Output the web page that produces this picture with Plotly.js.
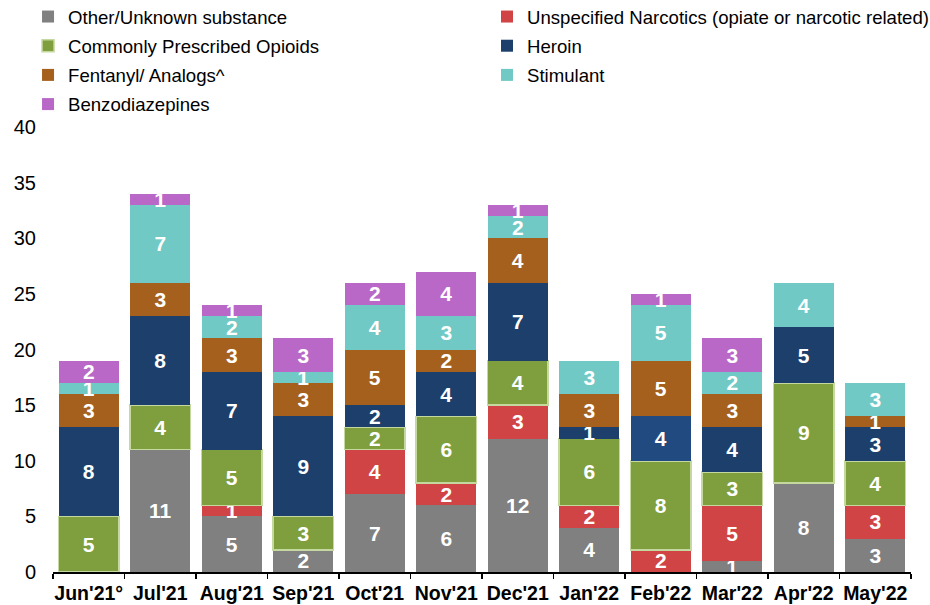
<!DOCTYPE html>
<html>
<head>
<meta charset="utf-8">
<script src="https://cdn.plot.ly/plotly-3.0.1.min.js"></script>
<style>html,body{margin:0;padding:0;background:#fff;}#chart{width:930px;height:605px;}</style>
</head>
<body>
<div id="chart"></div>
<script>
const months = ["Jun'21°","Jul'21","Aug'21","Sep'21","Oct'21","Nov'21","Dec'21","Jan'22","Feb'22","Mar'22","Apr'22","May'22"];
const otherUnknown = [0,11,5,2,7,6,12,4,0,1,8,3];
const unspecNarcotics = [0,0,1,0,4,2,3,2,2,5,0,3];
const prescribedOpioids = [5,4,5,3,2,6,4,6,8,3,9,4];
const heroin = [8,8,7,9,2,4,7,1,4,4,5,3];
const fentanyl = [3,3,3,3,5,2,4,3,5,3,0,1];
const stimulant = [1,7,2,1,4,3,2,3,5,2,4,3];
const benzodiazepines = [2,1,1,3,2,4,1,0,1,3,0,0];

const seriesNames = ["Other/Unknown substance","Unspecified Narcotics (opiate or narcotic related)","Commonly Prescribed Opioids","Heroin","Fentanyl/ Analogs^","Stimulant","Benzodiazepines"];
const seriesValues = [otherUnknown, unspecNarcotics, prescribedOpioids, heroin, fentanyl, stimulant, benzodiazepines];
const seriesColors = ["#808080","#d04445","#7f9f3f","#1c3f6c","#a5601e","#70c9c5","#b968c7"];
const legendColumn = ["legend","legend2","legend","legend2","legend","legend2","legend"];

const FONT = 'Liberation Sans, Arial, sans-serif';

const traces = seriesValues.map((vals, i) => ({
  type: 'bar',
  name: seriesNames[i],
  legend: legendColumn[i],
  legendgroup: 'g' + i,
  x: months,
  y: vals,
  text: vals.map(v => v === 0 ? '' : String(v)),
  textposition: 'inside',
  insidetextanchor: 'middle',
  textangle: 0,
  constraintext: 'none',
  cliponaxis: false,
  textfont: {family: FONT, size: 21, color: '#ffffff', weight: 'bold'},
  marker: {
    color: i === 3 ? vals.map((v, j) => j === 8 ? '#214a80' : seriesColors[i]) : seriesColors[i],
    line: i === 2 ? {color: '#c5d8a0', width: 1.5} : {width: 0}
  },
  hoverinfo: 'x+y+name'
}));

const legendBase = {
  orientation: 'v',
  yanchor: 'top',
  xanchor: 'left',
  traceorder: 'grouped',
  tracegroupgap: 2,
  font: {size: 18.6, family: FONT, color: '#000'},
  bgcolor: 'rgba(0,0,0,0)',
  borderwidth: 0
};

const layout = {
  width: 930, height: 605,
  barmode: 'stack',
  bargap: 0.16,
  paper_bgcolor: '#ffffff',
  plot_bgcolor: '#ffffff',
  margin: {l: 53, r: 19, t: 127, b: 33, autoexpand: false},
  font: {family: FONT, color: '#000000', size: 17},
  showlegend: true,
  legend: Object.assign({}, legendBase, {x: -0.0291, y: 1.29}),
  legend2: Object.assign({}, legendBase, {x: 0.5058, y: 1.29}),
  xaxis: {
    type: 'category',
    showline: true, linecolor: '#000', linewidth: 1.5,
    ticks: 'outside', tickson: 'boundaries', ticklen: 5, tickcolor: '#000', tickwidth: 1.5,
    ticklabelstandoff: 3,
    tickangle: 0,
    showgrid: false, zeroline: false,
    tickfont: {size: 19.5, weight: 'bold', family: FONT, color: '#000'}
  },
  yaxis: {
    range: [0, 40], dtick: 5, tick0: 0,
    showgrid: false, zeroline: false, showline: false, ticks: '',
    ticklabelstandoff: 16,
    tickfont: {size: 20, family: FONT, color: '#000'}
  }
};

Plotly.newPlot('chart', traces, layout, {displayModeBar: false, staticPlot: true});
</script>
</body>
</html>
